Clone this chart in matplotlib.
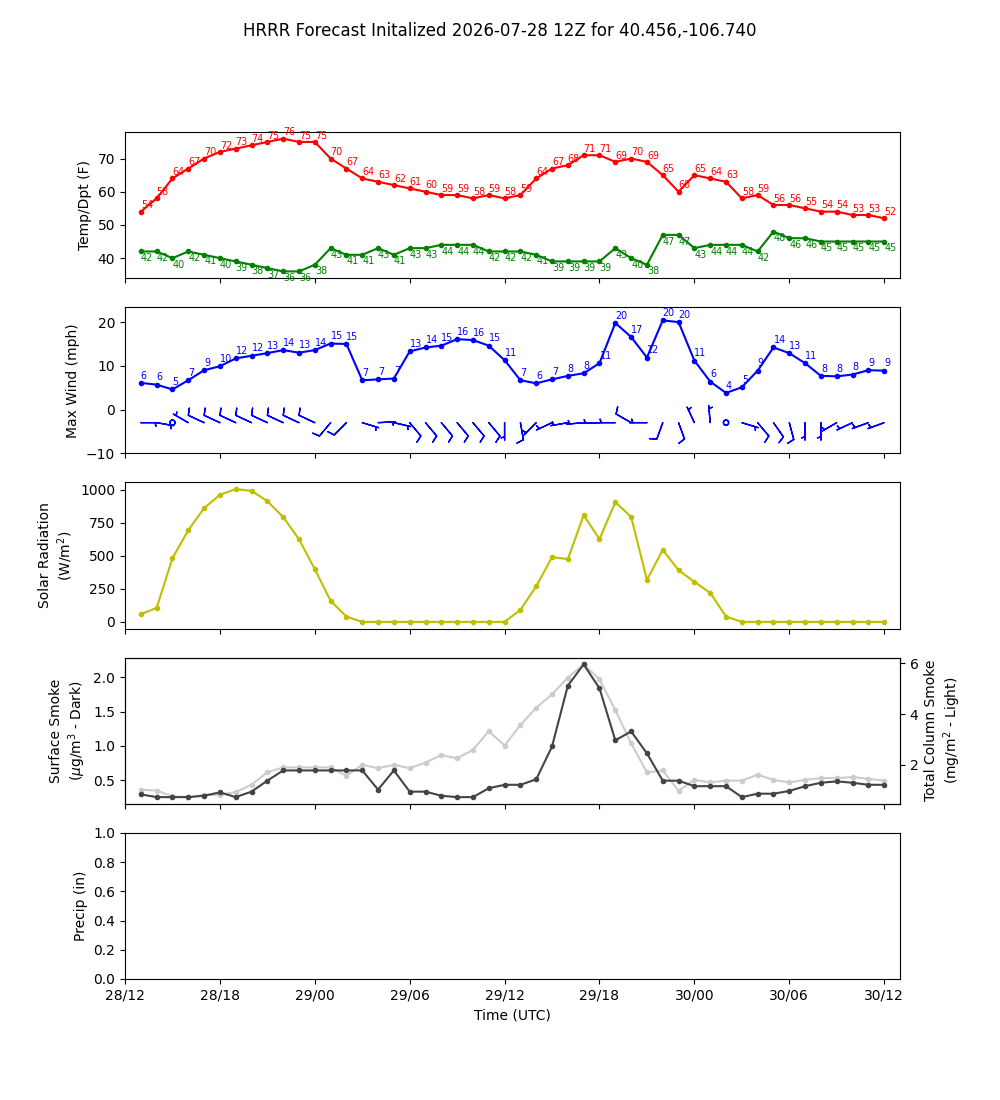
import matplotlib

matplotlib.use("Agg")

import matplotlib.dates as mdates
import matplotlib.pyplot as plt
import numpy as np
import pandas as pd

init_time = pd.Timestamp("2026-07-28 12:00")
lat, lon = 40.456, -106.740

temp_f = [54, 58, 64, 67, 70, 72, 73, 74, 75, 76, 75, 75, 70, 67, 64, 63, 62, 61, 60, 59, 59, 58, 59, 58,
          59, 64, 67, 68, 71, 71, 69, 70, 69, 65, 60, 65, 64, 63, 58, 59, 56, 56, 55, 54, 54, 53, 53, 52]
dewpt_f = [42, 42, 40, 42, 41, 40, 39, 38, 37, 36, 36, 38, 43, 41, 41, 43, 41, 43, 43, 44, 44, 44, 42, 42,
           42, 41, 39, 39, 39, 39, 43, 40, 38, 47, 47, 43, 44, 44, 44, 42, 48, 46, 46, 45, 45, 45, 45, 45]

max_wind_mph = [6.1, 5.7, 4.6, 6.7, 9.0, 9.9, 11.7, 12.3, 12.9, 13.6, 13.0, 13.6, 15.1, 15.0, 6.7, 6.9,
                7.1, 13.3, 14.2, 14.6, 16.1, 15.9, 14.6, 11.3, 6.7, 6.0, 6.9, 7.7, 8.3, 10.6, 19.8, 16.6,
                11.9, 20.4, 20.0, 11.2, 6.4, 3.8, 5.1, 8.9, 14.2, 12.9, 10.6, 7.7, 7.6, 8.0, 9.0, 8.9]
# 10 m wind for the barbs (direction wind blows from, speed)
wind_dir_deg = [90, 100, 0, 300, 295, 295, 295, 295, 295, 295, 295, 295, 220, 225, 107, 87,
                103, 140, 140, 140, 140, 140, 140, 180, 170, 225, 245, 260, 265, 268, 270, 300,
                270, 200, 160, 335, 355, 0, 107, 140, 145, 165, 180, 180, 240, 245, 250, 250]
wind_spd_mph = [5, 5, 1, 5, 10, 10, 10, 10, 10, 10, 10, 10, 10, 10, 5, 5,
                5, 10, 10, 10, 10, 10, 10, 5, 10, 5, 5, 5, 5, 5, 5, 10,
                5, 10, 10, 5, 5, 1, 5, 10, 10, 10, 5, 5, 5, 5, 5, 5]

solar_wm2 = [58, 106, 482, 694, 861, 962, 1005, 992, 914, 793, 626, 399, 159, 40, 0, 0, 0, 0, 0, 0, 0, 0, 0, 0,
             91, 270, 490, 475, 808, 626, 907, 795, 318, 545, 391, 303, 220, 40, 0, 0, 0, 0, 0, 0, 0, 0, 0, 0]

sfc_smoke = [0.29, 0.25, 0.25, 0.25, 0.27, 0.32, 0.25, 0.33, 0.49, 0.64, 0.64, 0.64, 0.64, 0.64, 0.64, 0.36,
             0.64, 0.33, 0.33, 0.27, 0.25, 0.25, 0.38, 0.43, 0.43, 0.51, 0.99, 1.88, 2.19, 1.84, 1.08, 1.21,
             0.89, 0.49, 0.49, 0.41, 0.41, 0.41, 0.25, 0.30, 0.30, 0.34, 0.41, 0.46, 0.48, 0.46, 0.43, 0.43]
col_smoke = [1.02, 0.99, 0.76, 0.73, 0.82, 0.82, 0.93, 1.22, 1.71, 1.90, 1.90, 1.90, 1.90, 1.57, 2.00, 1.87,
             2.00, 1.87, 2.09, 2.39, 2.26, 2.59, 3.33, 2.76, 3.57, 4.25, 4.78, 5.44, 5.96, 5.37, 4.16, 2.85,
             1.70, 1.78, 0.98, 1.41, 1.31, 1.38, 1.38, 1.61, 1.41, 1.31, 1.41, 1.48, 1.48, 1.52, 1.45, 1.38]

times = pd.date_range(init_time + pd.Timedelta(hours=1), periods=len(temp_f), freq="h")

fig, axes = plt.subplots(5, 1, figsize=(10, 11), sharex=True)
fig.suptitle(f"HRRR Forecast Initalized {init_time:%Y-%m-%d %H}Z for {lat:.3f},{lon:.3f}")

# temperature / dewpoint
ax = axes[0]
ax.plot(times, temp_f, "r.-")
ax.plot(times, dewpt_f, "g.-")
for t, temp, dew in zip(times, temp_f, dewpt_f):
    ax.text(t, temp + 1, f"{temp:.0f}", color="r", fontsize="x-small")
    ax.text(t, dew - 0.5, f"{dew:.0f}", color="g", fontsize="x-small", va="top")
ax.set_ylabel("Temp/Dpt (F)")

# wind
ax = axes[1]
ax.plot(times, max_wind_mph, "b.-")
for t, wind in zip(times, max_wind_mph):
    ax.text(t, wind + 1, f"{wind:.0f}", color="b", fontsize="x-small")
rad = np.deg2rad(wind_dir_deg)
spd = np.array(wind_spd_mph, dtype=float)
u = -spd * np.sin(rad)
v = -spd * np.cos(rad)
ax.barbs(mdates.date2num(times), np.full(len(times), -3), u, v, length=5, color="b")
ax.set_ylim(-10, max(max_wind_mph) + 3)
ax.set_ylabel("Max Wind (mph)")

# solar
ax = axes[2]
ax.plot(times, solar_wm2, "y.-")
ax.set_ylabel("Solar Radiation\n(W/m$^2$)")

# smoke
ax = axes[3]
ax.plot(times, sfc_smoke, ".-", color="#444444")
ax.set_ylabel("Surface Smoke\n($\\mu$g/m$^3$ - Dark)")
ax_col = ax.twinx()
ax_col.plot(times, col_smoke, ".-", color="#cccccc")
ax_col.set_ylabel("Total Column Smoke\n(mg/m$^2$ - Light)")
ax.set_zorder(ax_col.get_zorder() + 1)
ax.patch.set_visible(False)

# precip
ax = axes[4]
ax.set_ylabel("Precip (in)")
ax.set_xlabel("Time (UTC)")

ax.set_xlim(init_time, times[-1] + pd.Timedelta(hours=1))
ax.xaxis.set_major_locator(mdates.HourLocator(byhour=range(0, 24, 6)))
ax.xaxis.set_major_formatter(mdates.DateFormatter("%d/%H"))

fig.savefig("out.png", dpi=100)
